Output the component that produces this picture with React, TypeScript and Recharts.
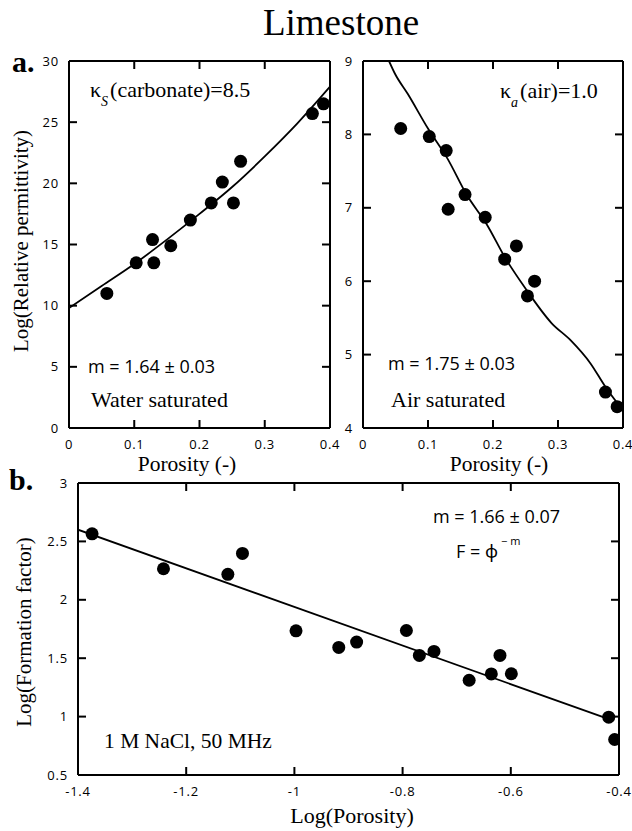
import React from 'react';
import { ComposedChart, Scatter, Line, XAxis, YAxis, ReferenceLine } from 'recharts';

// a. water saturated
const waterPorosity = [0.058, 0.103, 0.128, 0.13, 0.156, 0.186, 0.218, 0.235, 0.252, 0.263, 0.373, 0.39];
const waterPermittivity = [11.0, 13.5, 15.4, 13.5, 14.9, 17.0, 18.4, 20.1, 18.4, 21.8, 25.7, 26.5];
const waterModelPorosity = [0, 0.05, 0.1, 0.15, 0.2, 0.25, 0.3, 0.35, 0.4];
const waterModelPermittivity = [9.8, 11.6, 13.4, 15.4, 17.5, 19.7, 22.2, 24.9, 27.9];

// a. air saturated
const airPorosity = [0.058, 0.102, 0.128, 0.131, 0.157, 0.188, 0.218, 0.236, 0.253, 0.264, 0.373, 0.391];
const airPermittivity = [8.08, 7.97, 7.78, 6.98, 7.18, 6.87, 6.3, 6.48, 5.8, 6.0, 4.49, 4.29];
const airModelPorosity = [0.04, 0.049, 0.069, 0.1, 0.13, 0.16, 0.19, 0.22, 0.25, 0.29, 0.32, 0.35, 0.373, 0.394];
const airModelPermittivity = [9.0, 8.83, 8.55, 8.08, 7.67, 7.17, 6.78, 6.3, 5.9, 5.43, 5.19, 4.88, 4.56, 4.31];

// b. formation factor
const logPorosity = [-1.374, -1.242, -1.123, -1.096, -0.997, -0.918, -0.885, -0.793, -0.769, -0.742, -0.677, -0.636, -0.62, -0.599, -0.419, -0.408];
const logFormationFactor = [2.565, 2.266, 2.218, 2.397, 1.734, 1.592, 1.638, 1.737, 1.524, 1.558, 1.311, 1.365, 1.524, 1.367, 0.995, 0.804];
const fitLogPorosity = [-1.4, -0.42];
const fitLogFormationFactor = [2.6, 0.98];

const porosityTicks = [0, 0.1, 0.2, 0.3, 0.4];
const waterTicks = [0, 5, 10, 15, 20, 25, 30];
const airTicks = [4, 5, 6, 7, 8, 9];
const logPorosityTicks = [-1.4, -1.2, -1, -0.8, -0.6, -0.4];
const logFTicks = [0.5, 1, 1.5, 2, 2.5, 3];

const zip = (xs: number[], ys: number[]) => xs.map((x, i) => ({ x, y: ys[i] }));

const SERIF = '"Liberation Serif", "Times New Roman", serif';
const SANS = '"Open Sans", "Noto Sans", "DejaVu Sans", sans-serif';

const axisLine = { stroke: '#000', strokeWidth: 2 };
const TL = 8; // inward tick length in px
const XGAP = 12;
const YGAP = 10;
const Y_AXIS_W = 40;
const X_AXIS_H = 30;

const BottomLabel = (props: any) => (
  <text x={props.x} y={props.y} dy="0.71em" textAnchor="middle" fontFamily={SANS} fontSize={13} letterSpacing={0.8} fill="#000">
    {props.payload.value}
  </text>
);

const LeftLabel = (props: any) => (
  <text x={props.x} y={props.y} dy="0.35em" textAnchor="end" fontFamily={SANS} fontSize={13} letterSpacing={0.8} fill="#000">
    {props.payload.value}
  </text>
);

const BigDot = (props: any) => <circle cx={props.cx} cy={props.cy} r={6.5} fill="#000" />;

interface PanelProps {
  width: number;
  height: number;
  margin: { top: number; right: number; bottom: number; left: number };
  xDomain: [number, number];
  xTicks: number[];
  yDomain: [number, number];
  yTicks: number[];
  points: { x: number; y: number }[];
  curve: { x: number; y: number }[];
}

const Panel: React.FC<PanelProps> = ({ width, height, margin, xDomain, xTicks, yDomain, yTicks, points, curve }) => {
  // plot size in px, used to turn the tick length into data units
  const pw = width - margin.left - margin.right - Y_AXIS_W - 1;
  const ph = height - margin.top - margin.bottom - X_AXIS_H - 1;
  const dx = (TL * (xDomain[1] - xDomain[0])) / pw;
  const dy = (TL * (yDomain[1] - yDomain[0])) / ph;
  const innerX = xTicks.slice(1, -1);
  const innerY = yTicks.slice(1, -1);
  const tickProps = { xAxisId: 'b', yAxisId: 'l', stroke: '#000', strokeWidth: 2, ifOverflow: 'visible' as const };

  return (
    <ComposedChart width={width} height={height} margin={margin}>
      <XAxis xAxisId="b" type="number" dataKey="x" domain={xDomain} ticks={xTicks} interval={0} allowDataOverflow
        height={X_AXIS_H} tickSize={0} tickMargin={XGAP} axisLine={axisLine} tickLine={false} tick={BottomLabel} />
      <XAxis xAxisId="t" orientation="top" type="number" dataKey="x" domain={xDomain} ticks={xTicks} interval={0} allowDataOverflow
        height={1} tickSize={0} axisLine={axisLine} tickLine={false} tick={false} />
      <YAxis yAxisId="l" type="number" dataKey="y" domain={yDomain} ticks={yTicks} interval={0} allowDataOverflow
        width={Y_AXIS_W} tickSize={0} tickMargin={YGAP} axisLine={axisLine} tickLine={false} tick={LeftLabel} />
      <YAxis yAxisId="r" orientation="right" type="number" dataKey="y" domain={yDomain} ticks={yTicks} interval={0} allowDataOverflow
        width={1} tickSize={0} axisLine={axisLine} tickLine={false} tick={false} />

      {innerX.map((t) => (
        <ReferenceLine key={`xb${t}`} {...tickProps} segment={[{ x: t, y: yDomain[0] }, { x: t, y: yDomain[0] + dy }]} />
      ))}
      {innerX.map((t) => (
        <ReferenceLine key={`xt${t}`} {...tickProps} segment={[{ x: t, y: yDomain[1] }, { x: t, y: yDomain[1] - dy }]} />
      ))}
      {innerY.map((t) => (
        <ReferenceLine key={`yl${t}`} {...tickProps} segment={[{ x: xDomain[0], y: t }, { x: xDomain[0] + dx, y: t }]} />
      ))}
      {innerY.map((t) => (
        <ReferenceLine key={`yr${t}`} {...tickProps} segment={[{ x: xDomain[1], y: t }, { x: xDomain[1] - dx, y: t }]} />
      ))}

      <Line xAxisId="b" yAxisId="l" data={curve} dataKey="y" type="monotone" stroke="#000" strokeWidth={1.8}
        dot={false} activeDot={false} isAnimationActive={false} />
      <Scatter xAxisId="b" yAxisId="l" data={points} shape={BigDot} isAnimationActive={false} />
    </ComposedChart>
  );
};

export default function App() {
  return (
    <div style={{ position: 'absolute', left: 0, top: 0, width: 632, height: 831, background: '#fff' }}>
      <div style={{ position: 'absolute', left: 0, top: 0 }}>
        <Panel width={345} height={470} margin={{ top: 60, right: 14, bottom: 12, left: 29 }}
          xDomain={[0, 0.4]} xTicks={porosityTicks} yDomain={[0, 30]} yTicks={waterTicks}
          points={zip(waterPorosity, waterPermittivity)} curve={zip(waterModelPorosity, waterModelPermittivity)} />
      </div>
      <div style={{ position: 'absolute', left: 320, top: 0 }}>
        <Panel width={312} height={470} margin={{ top: 60, right: 8, bottom: 12, left: 3 }}
          xDomain={[0, 0.4]} xTicks={porosityTicks} yDomain={[4, 9]} yTicks={airTicks}
          points={zip(airPorosity, airPermittivity)} curve={zip(airModelPorosity, airModelPermittivity)} />
      </div>
      <div style={{ position: 'absolute', left: 0, top: 440 }}>
        <Panel width={632} height={391} margin={{ top: 42, right: 12, bottom: 26, left: 38 }}
          xDomain={[-1.4, -0.4]} xTicks={logPorosityTicks} yDomain={[0.5, 3]} yTicks={logFTicks}
          points={zip(logPorosity, logFormationFactor)} curve={zip(fitLogPorosity, fitLogFormationFactor)} />
      </div>
      <svg width={632} height={831} style={{ position: 'absolute', left: 0, top: 0, pointerEvents: 'none' }}>
        <text x={341} y={35} textAnchor="middle" fontFamily={SERIF} fontSize={37}>Limestone</text>
        <text x={12} y={72} fontFamily={SERIF} fontSize={30} fontWeight="bold">a.</text>
        <text x={9} y={490} fontFamily={SERIF} fontSize={30} fontWeight="bold">b.</text>

        <text transform="translate(28,241) rotate(-90)" textAnchor="middle" fontFamily={SERIF} fontSize={21}>Log(Relative permittivity)</text>
        <text x={187} y={471} textAnchor="middle" fontFamily={SERIF} fontSize={21.5}>Porosity (-)</text>
        <text x={499} y={471} textAnchor="middle" fontFamily={SERIF} fontSize={21.5}>Porosity (-)</text>

        <text x={90} y={97} fontFamily={SERIF} fontSize={22}>
          κ<tspan fontSize={14} fontStyle="italic" dy={9}>S</tspan><tspan dy={-9} dx={2}>(carbonate)=8.5</tspan>
        </text>
        <text x={88} y={373} fontFamily={SANS} fontSize={18}>m = 1.64 ± 0.03</text>
        <text x={91} y={407} fontFamily={SERIF} fontSize={22}>Water saturated</text>

        <text x={500} y={98} fontFamily={SERIF} fontSize={22}>
          κ<tspan fontSize={14} fontStyle="italic" dy={9}>a</tspan><tspan dy={-9} dx={2}>(air)=1.0</tspan>
        </text>
        <text x={388} y={370} fontFamily={SANS} fontSize={18}>m = 1.75 ± 0.03</text>
        <text x={391} y={407} fontFamily={SERIF} fontSize={22}>Air saturated</text>

        <text x={433} y={523} fontFamily={SANS} fontSize={18}>m = 1.66 ± 0.07</text>
        <text x={456} y={558} fontFamily={SANS} fontSize={18}>
          F = ϕ<tspan fontSize={11} dy={-13} dx={3}>− m</tspan>
        </text>
        <text x={104} y={748} fontFamily={SERIF} fontSize={21.5}>1 M NaCl, 50 MHz</text>
        <text transform="translate(31,632) rotate(-90)" textAnchor="middle" fontFamily={SERIF} fontSize={21}>Log(Formation factor)</text>
        <text x={352} y={823} textAnchor="middle" fontFamily={SERIF} fontSize={22}>Log(Porosity)</text>
      </svg>
    </div>
  );
}
